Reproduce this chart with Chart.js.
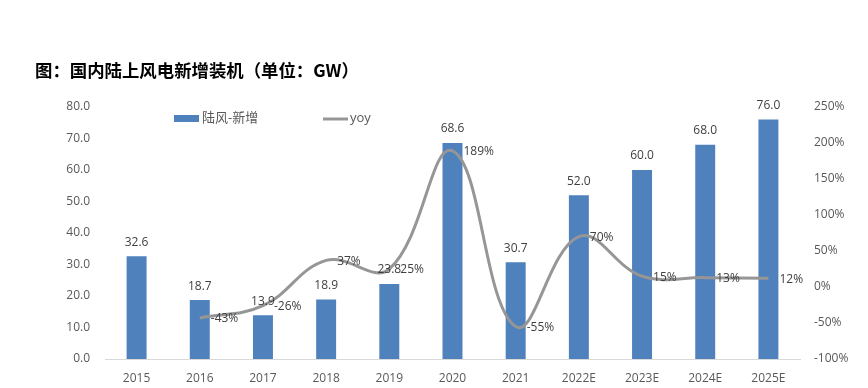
<!DOCTYPE html>
<html>
<head>
<meta charset="utf-8">
<script src="https://cdn.jsdelivr.net/npm/chart.js@4/dist/chart.umd.min.js"></script>
<style>
    body { margin: 0; background: #fff; }
    #wrap { position: relative; width: 868px; height: 388px; }
    #title {
        position: absolute; left: 35px; top: 57px;
        font: bold 17.4px "Noto Sans CJK SC", sans-serif; color: #000;
    }
    canvas { position: absolute; left: 0; top: 0; }
</style>
</head>
<body>
<div id="wrap">
    <canvas id="chart" width="868" height="388"></canvas>
    <div id="title">图：国内陆上风电新增装机（单位：GW）</div>
</div>
<script>
const years = ['2015', '2016', '2017', '2018', '2019', '2020', '2021', '2022E', '2023E', '2024E', '2025E'];
const newInstall = [32.6, 18.7, 13.9, 18.9, 23.8, 68.6, 30.7, 52.0, 60.0, 68.0, 76.0];
const yoy = [null, -43, -26, 37, 25, 189, -55, 70, 15, 13, 12];

const barColor = '#4F81BD';
const lineColor = '#969696';
const textColor = '#595959';
const font = '"Open Sans", "Noto Sans CJK SC", sans-serif';

// value labels + in-plot legend
const labelPlugin = {
    id: 'labels',
    afterDatasetsDraw(chart) {
        const ctx = chart.ctx;
        ctx.save();
        ctx.font = '12px ' + font;
        ctx.fillStyle = '#404040';

        chart.getDatasetMeta(0).data.forEach((bar, i) => {
            ctx.textAlign = 'center';
            ctx.textBaseline = 'middle';
            ctx.fillText(newInstall[i].toFixed(1), bar.x, bar.y - 14);
        });

        chart.getDatasetMeta(1).data.forEach((pt, i) => {
            if (yoy[i] === null) return;
            ctx.textAlign = 'left';
            ctx.textBaseline = 'middle';
            ctx.fillText(yoy[i] + '%', pt.x + 11, pt.y + 1);
        });

        // legend
        const a = chart.chartArea;
        const ly = a.top + 11;
        ctx.fillStyle = barColor;
        ctx.fillRect(a.left + 69, ly - 3, 25, 7);
        ctx.fillStyle = textColor;
        ctx.font = '13px ' + font;
        ctx.fillText('陆风-新增', a.left + 97, ly);
        ctx.strokeStyle = lineColor;
        ctx.lineWidth = 3;
        ctx.beginPath();
        ctx.moveTo(a.left + 218, ly + 1);
        ctx.lineTo(a.left + 243, ly + 1);
        ctx.stroke();
        ctx.fillText('yoy', a.left + 245, ly);
        ctx.restore();
    }
};

new Chart(document.getElementById('chart'), {
    data: {
        labels: years,
        datasets: [{
            type: 'bar',
            label: '陆风-新增',
            data: newInstall,
            backgroundColor: barColor,
            yAxisID: 'y',
            barPercentage: 0.316,
            categoryPercentage: 1,
            order: 2
        }, {
            type: 'line',
            label: 'yoy',
            data: yoy,
            borderColor: lineColor,
            borderWidth: 3,
            pointRadius: 0,
            tension: 0.4,
            yAxisID: 'y1',
            order: 1
        }]
    },
    options: {
        responsive: false,
        animation: false,
        layout: { padding: { top: 107, left: 0, right: 0, bottom: 0 } },
        plugins: {
            legend: { display: false },
            tooltip: { enabled: false }
        },
        scales: {
            x: {
                grid: { display: false, drawTicks: false },
                border: { color: '#d9d9d9', width: 1 },
                ticks: { color: textColor, font: { family: font, size: 12 }, padding: 12 },
                afterFit(s) { s.height = 29; }
            },
            y: {
                position: 'left',
                min: 0, max: 80,
                grid: { display: false, drawTicks: false },
                border: { display: false },
                ticks: {
                    stepSize: 10, padding: 15, color: textColor,
                    font: { family: font, size: 12 },
                    callback: v => v.toFixed(1)
                },
                afterFit(s) { s.width = 105; }
            },
            y1: {
                position: 'right',
                min: -100, max: 250,
                grid: { display: false, drawTicks: false },
                border: { display: false },
                ticks: {
                    stepSize: 50, padding: 14, color: textColor,
                    font: { family: font, size: 12 },
                    callback: v => v + '%'
                },
                afterFit(s) { s.width = 68; }
            }
        }
    },
    plugins: [labelPlugin]
});
</script>
</body>
</html>
